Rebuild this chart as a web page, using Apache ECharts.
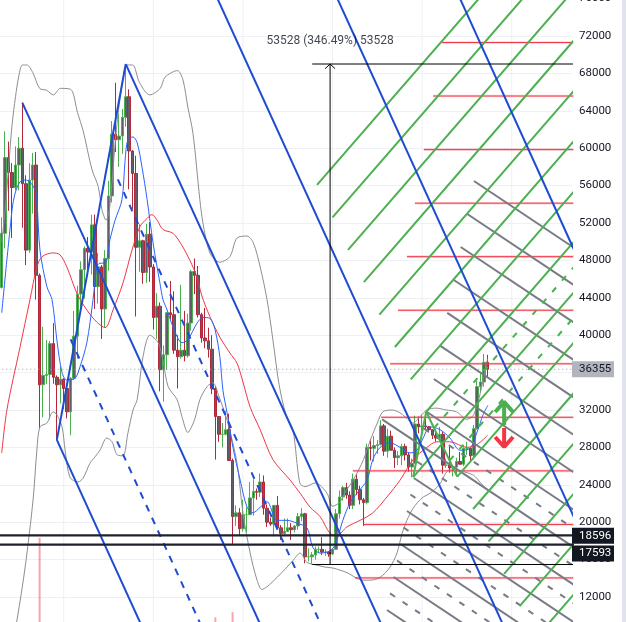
<!DOCTYPE html>
<html><head><meta charset="utf-8">
<script src="https://cdn.jsdelivr.net/npm/echarts@6/dist/echarts.min.js"></script>
<style>html,body{margin:0;padding:0;background:#fff;overflow:hidden}#c{width:626px;height:622px}</style>
</head><body><div id="c"></div>
<script>
// ---------- categories (weekly candles, BTC/USD) ----------
const weeks2021 = ['03-01','03-08','03-15','03-22','03-29','04-05','04-12','04-19','04-26','05-03','05-10','05-17','05-24','05-31','06-07','06-14','06-21','06-28','07-05','07-12','07-19','07-26','08-02','08-09','08-16','08-23','08-30','09-06','09-13','09-20','09-27','10-04','10-11','10-18','10-25','11-01','11-08','11-15','11-22','11-29','12-06','12-13','12-20','12-27'];
const weeks2022 = ['01-03','01-10','01-17','01-24','01-31','02-07','02-14','02-21','02-28','03-07','03-14','03-21','03-28','04-04','04-11','04-18','04-25','05-02','05-09','05-16','05-23','05-30','06-06','06-13','06-20','06-27','07-04','07-11','07-18','07-25','08-01','08-08','08-15','08-22','08-29','09-05','09-12','09-19','09-26','10-03','10-10','10-17','10-24','10-31','11-07','11-14','11-21','11-28','12-05','12-12','12-19','12-26'];
const weeks2023 = ['01-02','01-09','01-16','01-23','01-30','02-06','02-13','02-20','02-27','03-06','03-13','03-20','03-27','04-03','04-10','04-17','04-24','05-01','05-08','05-15','05-22','05-29','06-05','06-12','06-19','06-26','07-03','07-10','07-17','07-24','07-31','08-07','08-14','08-21','08-28','09-04','09-11','09-18','09-25','10-02','10-09','10-16','10-23','10-30','11-06','11-13'];

// ---------- OHLC ----------
const open = [45100,50900,59000,57400,55800,58200,60000,56200,49100,56600,58200,46400,34700,35700,35800,39100,35500,34700,35300,34300,31800,35400,39900,44400,47000,49300,48900,51800,45200,47300,42800,48200,54900,61500,60900,61300,63300,65500,59700,57300,49400,50100,46700,50800,
47300,41900,43100,36300,37900,42400,42200,38400,37700,38400,37800,41300,46800,46400,42200,39700,39400,38500,34300,31300,29400,29400,29900,26600,20600,21000,19300,20800,20800,22600,23300,23200,24300,21500,20000,19800,21800,19400,18800,19000,19400,19200,19600,20600,20900,16300,16300,16500,17100,17100,16800,16800,
16600,17100,20900,22700,23700,22900,21800,24600,23500,22400,22100,28000,27900,28200,28300,30300,27600,29200,27700,26900,27100,28100,27200,25900,26300,30500,30200,30300,30200,29900,29300,29000,29400,26100,26100,25800,25900,26500,26200,27900,27900,27100,30000,34500,35000,37100];
const close = [50900,59000,57400,55800,58200,60000,56200,49100,56600,58200,46400,34700,35700,35800,39100,35500,34700,35300,34300,31800,35400,39900,44400,47000,49300,48900,51800,45200,47300,42800,48200,54900,61500,60900,61300,63300,65500,59700,57300,49400,50100,46700,50800,47300,
41900,43100,36300,37900,42400,42200,38400,37700,38400,37800,41300,46800,46400,42200,39700,39400,38500,34300,31300,29400,29400,29900,26600,20600,21000,19300,20800,20800,22600,23300,23200,24300,21500,20000,19800,21800,19400,18800,19000,19400,19200,19600,20600,20900,16300,16300,16500,17100,17100,16800,16800,16600,
17100,20900,22700,23700,22900,21800,24600,23500,22400,22100,28000,27900,28200,28300,30300,27600,29200,27700,26900,27100,28100,27200,25900,26300,30500,30200,30300,30200,29900,29300,29000,29400,26100,26100,25800,25900,26500,26200,27900,27900,27100,30000,34500,35000,37100,36355];
const high = [52600,61800,60700,58400,60200,61200,64900,57100,58400,59500,59600,46600,40900,39500,39400,41300,35700,36600,35400,34600,35500,42600,45300,47900,49500,50500,52900,52900,48800,47500,49100,56500,62900,67000,63700,64200,69000,66300,59800,59200,51900,50200,51900,52100,
47600,44500,43500,38900,42500,45800,44700,40000,45400,42600,42300,47000,48200,47400,42400,42900,40800,40000,34500,31300,30600,31900,31600,26800,21800,21500,22400,21600,24300,24600,23600,25200,25000,21900,20500,21800,22800,19700,20400,20400,19900,19700,21000,21500,21000,17200,16800,17400,17400,18400,17100,16900,
17200,21400,23400,23900,24200,23300,25200,25100,23900,22600,28400,28900,29200,28800,30900,30500,30000,29800,28000,27600,28400,28400,27400,26800,31400,31300,31500,31800,30300,29900,29700,30200,29700,26800,28100,26100,26900,27500,28000,28600,27900,30400,35200,35900,38000,37900];
const low = [45000,49300,53300,50400,55500,55500,51500,47500,48800,53000,43800,30000,31200,34800,31000,34800,28800,32700,32100,31100,29300,35200,37500,43000,43900,46300,46500,42800,43400,39600,40800,46900,54200,59600,58000,59400,62300,55600,53500,42000,46800,45500,45600,45700,
40600,39600,34000,32900,36300,41700,38000,34300,37500,37200,37600,40500,44400,41900,39200,38600,37600,33700,26700,28600,28000,29300,26600,17600,19600,18600,19000,18900,20800,20700,22400,22700,20800,19500,19600,18500,19300,18100,18500,19000,18100,18900,19200,20100,15600,15800,15500,16000,16700,16500,16400,16300,
16500,17100,20400,22300,22500,21400,21400,22900,21900,19600,21900,26600,26500,27300,28200,27100,26900,27700,25800,26100,26100,26600,25400,24800,26300,29500,29700,29900,29600,28900,28600,28700,25200,25800,25300,24900,24900,26300,26000,27200,26500,26900,29900,33900,34500,35500];

// visible volume bars (relative units)
const volumeWeek = [11, 62, 67];
const volumeValue = [15.2, 2.7, 3.5];

// ---------- indicator lines: [week index, price] ----------
const bbUpper = [[0,50000],[1,53400],[2,58000],[3,62500],[4,65500],[5,67800],[6,68900],[7.3,68900],[9,68100],[11,66400],[13,66200],[15,65700],[17,66400],[20,66300],[22,63800],[23.6,61900],[26.2,57700],[28,55900],[29.1,53400],[30.3,52300],[31.4,53900],[33,60900],[34.3,65200],[36.4,68900],[38,68900],[40,67000],[43,65700],[46,66400],[47.4,67600],[51,68300],[52.6,67300],[54,64400],[55.5,61600],[57.5,54500],[58.4,52000],[60.4,48800],[63.3,47800],[66.2,48400],[68.3,50400],[71.2,50600],[73,49900],[75,47300],[77,43800],[78.7,39500],[80.5,34700],[82.5,31500],[84.5,29900],[86.5,24200],[88,23800],[91,24200],[94.4,23100],[96,21700],[98,22100],[100,23400],[102,24500],[105,26700],[107,28800],[109,30600],[110.6,31800],[113.3,32000],[115.6,31700],[117,31300],[119.4,30600],[121.4,31300],[123.4,32000],[126,32200],[129,32000],[132,31800],[135,31000],[137,31500],[139,34000],[141,37500]];
const bbLower = [[0,2000],[2,5000],[4.4,9500],[6.8,15200],[9.1,22400],[10.2,27700],[11.1,30200],[13.1,30600],[14.9,31800],[16,31500],[17.5,30200],[18.4,27700],[19.8,24800],[22.1,24300],[23.6,24700],[25.6,26300],[27.1,27000],[28.5,27700],[30.5,29000],[32,28600],[33.5,27200],[35.2,27100],[36.6,29500],[38.1,32000],[39.3,33100],[41,37700],[43,40000],[45.4,39200],[46.8,37300],[48.3,34500],[50.9,33100],[52.3,31300],[54,29600],[56,31000],[57.5,33100],[59.6,34500],[61.3,34900],[63,33500],[65.4,30900],[68.3,26300],[70,21000],[72.1,16700],[74.1,13800],[75.5,12800],[77,13100],[79.9,14100],[82.8,15200],[84.5,15900],[86.6,16700],[88.6,15700],[91.5,15400],[93.8,15200],[96.1,15100],[100.2,14600],[103.1,14000],[104.8,13800],[106.9,13800],[109.8,14100],[112.7,15200],[114.7,16700],[116.2,18800],[117.6,20200],[119.4,21500],[122,22600],[124.3,23100],[127,24000],[130,25600],[133,25500],[135,25300],[137,25000],[139,24200],[141,23400]];
const maRed = [[0,27400],[1.5,32000],[5.3,38700],[8.2,43800],[10.2,47300],[11.7,48400],[14.9,48800],[16.9,48600],[18.9,47300],[21.8,44500],[24.7,42700],[27.6,41400],[30,40800],[32.3,42700],[35.2,45600],[37.8,49100],[40.1,51600],[42.2,52500],[43.6,52900],[45.1,52300],[46.8,51300],[49.7,50900],[52.3,49600],[54.6,48000],[56.7,46200],[58,44300],[60.4,42000],[63.3,39800],[66.2,38100],[68.3,37000],[70,35000],[72.1,32300],[75,29900],[78.7,26700],[83.7,24500],[86.6,23100],[89.5,21600],[92.4,20600],[95.3,18800],[97.3,18600],[100.2,19500],[104,20200],[107.7,21000],[111.8,22700],[115.6,24500],[119.4,26700],[123.4,28000],[126.3,28600],[130.1,28600],[135,28000],[137.9,28300],[141,29300]];
const maBlue = [[0,42400],[3,53400],[3.9,55200],[5.3,56400],[6.8,56600],[8.2,56400],[9.7,55500],[10.2,54500],[11.1,49100],[13.1,45200],[14.6,43800],[16,39500],[17.5,36000],[18.9,35200],[21.3,35400],[22.7,36600],[24.7,39200],[26.5,43800],[27.6,47300],[28.5,47700],[30,47700],[31.4,50200],[32.9,52300],[34.9,54500],[35.8,58700],[36.6,60900],[38.1,61200],[39.3,60600],[40.7,58000],[42.2,54500],[43.9,49900],[45.9,45600],[46.8,43800],[48,42700],[49.7,40900],[52.3,39200],[54,39500],[56.7,41300],[58.4,41900],[60.4,41800],[61.9,40600],[63.3,37700],[64.2,34100],[65.4,31700],[67.1,28000],[69.2,24500],[71.2,21600],[72.9,21000],[75,21600],[77,22200],[79.9,20200],[82.8,20200],[85.7,19900],[88.6,19400],[90.3,17300],[92.4,16700],[94.4,16800],[96.1,17200],[97.3,18100],[99,20200],[101.1,22100],[103.1,23100],[106,24500],[107.7,26700],[109.8,28000],[112.7,28500],[115.6,28000],[118.5,27400],[120.5,27700],[122.3,29000],[124.3,30200],[127.2,29900],[130.1,29000],[133,27700],[135.9,27900],[138.2,29900],[139.7,31500],[141.1,32500]];

// ---------- drawings: [week1, price1, week2, price2] ----------
const blueChannel = [[16,28800,60,-6750],[6,64850,80,5060],[36,69000,116,4360],[60,78110,150,5390],[95,77950,172,15730],[130,78440,172,44340],[16,28800,36,69000]];
const blueMid = [[33.7,56660,120,-13070],[20,39550,80,-8930]];
const greenLines = [[91.5,56070,170,89370],[96.0,52600,170,83980],[100.5,49130,170,78600],[105.1,45670,170,73210],[109.6,42200,170,67830],[114.1,38740,170,62440],[118.7,35270,170,57050],[123.2,31810,170,51670],[119.4,24830,170,46280],[132.2,24880,170,40900],[136.8,21410,170,35510],[141.3,17950,170,30130],[145.8,14480,170,24740],[150.3,11020,170,19360],[154.9,7550,170,13970],[119.4,24830,123.2,31810],[123.2,31810,132.2,24880]];
const greenMid = [[125.5,30080,170,48970],[130,26610,170,43590]];
const grayLines = [[137.05,56490,170,48390],[135.1,52960,170,44390],[133.2,49430,170,40380],[131.2,45900,170,36370],[129.3,42380,170,32360],[127.3,38850,170,28360],[125.4,35320,170,24350],[123.4,31790,170,20340],[110.4,31000,170,16340],[119.6,24730,170,12330],[117.6,21200,170,8320],[115.7,17670,170,4320],[113.7,14140,170,310],[111.8,10610,170,-3700]];
const grayMid = [[122.5,30020,170,18340],[120.5,26490,170,14330],[118.6,22960,170,10330],[116.6,19430,170,6320],[114.7,15900,170,2320],[112.7,12380,170,-1690]];
const redLevelStart = [127.8,125.2,122.5,119.9,117.6,115.0,112.7,110.1,101.9,105.1,102.5];
const redLevelPrice = [71300,65580,59850,54120,48400,42670,36940,31220,25490,19760,14040];
const blackLevels = [18596,17593];
const lastPrice = 36355;
const measureWeek = 95.3, measureFrom = 90.1, measureLow = 15476, measureHigh = 69004;
const measureDelta = 53528, measurePct = 346.49;
const upArrow = [[145.8,30400],[145.8,32860]];
const upArrowHead = [[143.2,31790],[145.8,32860],[148.4,31790]];
const downArrow = [[145.8,30075],[145.8,28040]];
const downArrowHead = [[143.2,29110],[145.8,28040],[148.4,29110]];
const gridWeeks = [18,44,70,96,122,148];

// ---------- build ----------
const SLOTS = 166;
const categories = [].concat(weeks2021.map(d=>'2021-'+d), weeks2022.map(d=>'2022-'+d), weeks2023.map(d=>'2023-'+d));
for (let k = categories.length; k < SLOTS; k++) categories.push('future-' + k);
const ohlc = open.map((o,i)=>[o, close[i], low[i], high[i]]);
const volData = categories.map(()=>null);
volumeWeek.forEach((w,k)=>{ volData[w] = volumeValue[k]; });

const series = [];
function line(data, color, width, type, z, extra) {
  return Object.assign({type:'line', xAxisIndex:1, yAxisIndex:0, data, symbol:'none', silent:true,
    animation:false, z: z, lineStyle:{color, width, type: type||'solid'}}, extra||{});
}
gridWeeks.forEach(g => series.push(line([[g,0],[g,100000]], '#eef0f4', 1, 'solid', 0)));
series.push({type:'bar', xAxisIndex:0, yAxisIndex:1, data: volData, barWidth:2, silent:true,
  itemStyle:{color:'rgba(242,54,69,0.45)'}, z:1, animation:false});
series.push({type:'candlestick', xAxisIndex:0, yAxisIndex:0, data: ohlc, barWidth:3, z:2, silent:true, animation:false,
  itemStyle:{color:'#5d6068', color0:'#5d6068', borderColor:'#4caf50', borderColor0:'#b2283a', borderWidth:1}});
series.push(line(bbUpper, '#8c8e95', 1, 'solid', 3, {smooth:0.3}));
series.push(line(bbLower, '#8c8e95', 1, 'solid', 3, {smooth:0.3}));
series.push(line(maRed, '#f23645', 1, 'solid', 3, {smooth:0.3}));
series.push(line(maBlue, '#2962ff', 1, 'solid', 3, {smooth:0.3}));

// price line
series.push(line([[-1,lastPrice],[170,lastPrice]], '#9598a1', 1, [1,3], 3));

// red levels
redLevelStart.forEach((s,k)=>{
  series.push(line([[s,redLevelPrice[k]],[170,redLevelPrice[k]]], 'rgba(242,54,69,0.22)', 2.6, 'solid', 4));
  series.push(line([[s,redLevelPrice[k]],[170,redLevelPrice[k]]], '#f23645', 1, 'solid', 4));
});
grayLines.forEach(a => series.push(line([[a[0],a[1]],[a[2],a[3]]], '#787b86', 2, 'solid', 5)));
grayMid.forEach(a => series.push(line([[a[0],a[1]],[a[2],a[3]]], '#787b86', 2, [6,9], 5)));
greenLines.forEach(a => series.push(line([[a[0],a[1]],[a[2],a[3]]], '#4caf50', 2, 'solid', 6)));
greenMid.forEach(a => series.push(line([[a[0],a[1]],[a[2],a[3]]], '#4caf50', 2, [6,9], 6)));
blueChannel.forEach(a => series.push(line([[a[0],a[1]],[a[2],a[3]]], '#1e4bd2', 2, 'solid', 7)));
blueMid.forEach(a => series.push(line([[a[0],a[1]],[a[2],a[3]]], '#1e4bd2', 2, [7,7], 7)));

// black levels
blackLevels.forEach(v => series.push(line([[-1,v],[170,v]], '#1e222d', 2.2, 'solid', 8)));
// measurement
series.push(line([[measureWeek,measureLow],[measureWeek,measureHigh]], '#000', 1, 'solid', 8));
series.push(line([[measureFrom,measureHigh],[170,measureHigh]], '#000', 1, 'solid', 8));
series.push(line([[measureFrom,measureLow],[170,measureLow]], '#000', 1, 'solid', 8));
series.push(line([[measureWeek-1.45,measureHigh-500],[measureWeek,measureHigh],[measureWeek+1.45,measureHigh-500]], '#000', 1, 'solid', 8));
series.push({type:'scatter', xAxisIndex:1, yAxisIndex:0, data:[[measureWeek, measureHigh]], symbolSize:0, silent:true, z:8, animation:false,
  label:{show:true, position:'top', distance:17, formatter: ()=> measureDelta + ' (' + measurePct.toFixed(2) + '%) ' + measureDelta,
    fontSize:12, color:'#131722', fontFamily:'Roboto, sans-serif'}});
// arrows
series.push(line(upArrow, '#4caf50', 4, 'solid', 9));
series.push(line(upArrowHead, '#4caf50', 4, 'solid', 9));
series.push(line(downArrow, '#f23645', 4, 'solid', 9));
series.push(line(downArrowHead, '#f23645', 4, 'solid', 9));

const chart = echarts.init(document.getElementById('c'), null, {renderer:'canvas'});
chart.setOption({
  animation:false,
  backgroundColor:'#ffffff',
  grid:{left:0, right:54, top:-1.4, bottom:-12.4, containLabel:false, outerBoundsMode:'none'},
  xAxis:[
    {type:'category', data:categories, boundaryGap:true, show:false},
    {type:'value', min:-0.5, max:SLOTS-0.5, show:false}
  ],
  yAxis:[
    {type:'value', position:'right', min:8000, max:76000, interval:4000,
      axisLine:{show:false}, axisTick:{show:false},
      axisLabel:{fontSize:11.5, color:'#131722', margin:7, fontFamily:'Roboto, sans-serif', formatter: v => String(v)},
      splitLine:{lineStyle:{color:'#eef0f4', width:1}}},
    {type:'value', min:0, max:100, show:false}
  ],
  series
});

// price labels on the axis
const tags = [
  {v:lastPrice, text:String(lastPrice), bg:'#b2b5be', fg:'#131722', dy:0},
  {v:blackLevels[0], text:String(blackLevels[0]), bg:'#131722', fg:'#ffffff', dy:0.5},
  {v:blackLevels[1], text:String(blackLevels[1]), bg:'#131722', fg:'#ffffff', dy:8.8}
];
const gfx = [{type:'rect', shape:{x:622, y:0, width:4, height:622}, style:{fill:'#e0e3eb'}, z:100}];
tags.forEach(t=>{
  const py = chart.convertToPixel({yAxisIndex:0}, t.v) + t.dy;
  gfx.push({type:'rect', shape:{x:572, y:py-8, width:42, height:16}, style:{fill:t.bg}, z:100});
  gfx.push({type:'text', x:579, y:py, style:{text:t.text, fill:t.fg, font:'11.5px Roboto, sans-serif', verticalAlign:'middle'}, z:101});
});
chart.setOption({graphic: gfx});
</script>
</body></html>
